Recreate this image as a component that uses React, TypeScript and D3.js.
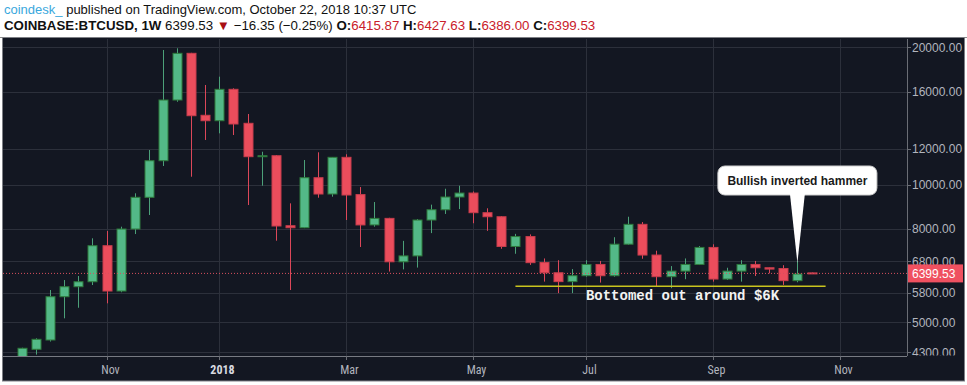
import React from 'react';
import * as d3 from 'd3';

// weekly BTCUSD candles (Coinbase)
const weeks = [
  '2017-09-25', '2017-10-02', '2017-10-09', '2017-10-16', '2017-10-23', '2017-10-30',
  '2017-11-06', '2017-11-13', '2017-11-20', '2017-11-27', '2017-12-04', '2017-12-11',
  '2017-12-18', '2017-12-25', '2018-01-01', '2018-01-08', '2018-01-15', '2018-01-22',
  '2018-01-29', '2018-02-05', '2018-02-12', '2018-02-19', '2018-02-26', '2018-03-05',
  '2018-03-12', '2018-03-19', '2018-03-26', '2018-04-02', '2018-04-09', '2018-04-16',
  '2018-04-23', '2018-04-30', '2018-05-07', '2018-05-14', '2018-05-21', '2018-05-28',
  '2018-06-04', '2018-06-11', '2018-06-18', '2018-06-25', '2018-07-02', '2018-07-09',
  '2018-07-16', '2018-07-23', '2018-07-30', '2018-08-06', '2018-08-13', '2018-08-20',
  '2018-08-27', '2018-09-03', '2018-09-10', '2018-09-17', '2018-09-24', '2018-10-01',
  '2018-10-08', '2018-10-15', '2018-10-22',
];
const opens = [
  3700, 4366, 4575, 5690, 5984, 6136, 7358, 5856, 8004, 9391, 11292, 15334,
  19403, 14198, 13814, 16184, 13636, 11524, 11580, 8138, 8056, 10366, 9548, 11488,
  9520, 8170, 8445, 6785, 6990, 8375, 8820, 9405, 9595, 8690, 8515, 7330,
  7705, 6760, 6420, 6140, 6325, 6695, 6325, 7415, 8195, 7020, 6295, 6475,
  6695, 7295, 6220, 6475, 6695, 6585, 6560, 6170, 6415.87,
];
const highs = [
  4400, 4614, 5886, 6189, 6316, 7638, 7924, 8098, 9582, 11919, 19730, 19900,
  19450, 16540, 17246, 16266, 14290, 11816, 11620, 9110, 11334, 11782, 11500, 11664,
  9890, 9170, 8470, 7540, 8415, 9050, 9805, 9955, 9670, 8885, 8540, 7810,
  7790, 6900, 6840, 6540, 6840, 6815, 7680, 8515, 8290, 7175, 6640, 6900,
  7345, 7410, 6585, 6840, 6815, 6590, 6670, 6815, 6427.63,
];
const lows = [
  3650, 4250, 4540, 5103, 5382, 6035, 5504, 5820, 7804, 8589, 10996, 15200,
  10417, 12536, 12964, 12854, 9032, 9956, 7546, 5886, 8040, 9372, 9420, 8376,
  7310, 8100, 6460, 6530, 6590, 7840, 8635, 8850, 8240, 7930, 7245, 7065,
  6680, 6140, 5795, 5795, 6295, 6110, 6295, 7395, 6890, 5990, 5940, 6215,
  6675, 6140, 6190, 6140, 6315, 6400, 6040, 6120, 6386.0,
];
const closes = [
  4388, 4591, 5690, 5984, 6136, 7358, 5856, 8004, 9391, 11292, 15334, 19403,
  14168, 13814, 16184, 13588, 11524, 11580, 8126, 8056, 10366, 9548, 11488, 9500,
  8170, 8445, 6785, 6990, 8375, 8820, 9405, 9595, 8690, 8515, 7330, 7705,
  6755, 6420, 6140, 6325, 6695, 6325, 7415, 8195, 7020, 6295, 6475, 6695,
  7295, 6220, 6475, 6695, 6585, 6540, 6170, 6380, 6399.53,
];

const priceTicks = [20000, 16000, 12000, 10000, 8000, 6800, 5800, 5000, 4300];
const monthTickDates = ['2017-11-06', '2018-01-01', '2018-03-05', '2018-05-07', '2018-07-02', '2018-09-03', '2018-11-05'];
const monthTickLabels = ['Nov', '2018', 'Mar', 'May', 'Jul', 'Sep', 'Nov'];
const lastPrice = 6399.53;

// annotations
const supportPrice = 6000;
const supportFrom = '2018-05-28';
const supportTo = '2018-10-29';
const supportLabel = 'Bottomed out around $6K';
const hammerWeek = '2018-10-15';
const hammerTipPrice = 6744;
const hammerLabel = 'Bullish inverted hammer';

const W = 967;
const H = 385;
const plotL = 3, plotR = 907, plotT = 39, plotB = 356;

const UP = '#53b987', UP_BORDER = '#2e7a3c', UP_WICK = '#4ca079';
const DOWN = '#eb4d5c', DOWN_BORDER = '#c73d4c', DOWN_WICK = '#dc4759';
const GRID = '#2c303b';
const AXIS_TEXT = '#b2b5be';
const HDR_RED = '#c9202a';

export default function App() {
  const x = d3.scaleUtc()
    .domain([new Date(weeks[0]), new Date(weeks[weeks.length - 1])])
    .range([22, 811.5]);
  const y = d3.scaleLog().domain([4300, 20000]).range([352.3, 47.3]);

  const candles = weeks.map((w, i) => ({
    date: new Date(w), o: opens[i], h: highs[i], l: lows[i], c: closes[i],
  }));

  const bodyW = 9;
  const yLast = y(lastPrice);
  const hx = x(new Date(hammerWeek));
  const calloutW = 159, calloutH = 29, calloutTop = 166;
  const sx1 = x(new Date(supportFrom)), sx2 = x(new Date(supportTo));

  return (
    <svg width={W} height={H} style={{ position: 'absolute', left: 0, top: 0, background: '#fff' }}
      fontFamily="'Liberation Sans', Arial, sans-serif">
      <defs>
        <clipPath id="plot-clip">
          <rect x={plotL} y={plotT} width={plotR - plotL} height={plotB - plotT} />
        </clipPath>
        <clipPath id="yaxis-clip">
          <rect x={plotR} y={plotT} width={W - plotR - 2} height={plotB - plotT - 0.5} />
        </clipPath>
      </defs>

      {/* header */}
      <text x={4} y={14} fontSize={13} fill="#111">
        <tspan fill="#3aa8dd">coindesk_</tspan>
        <tspan> published on TradingView.com, October 22, 2018 10:37 UTC</tspan>
      </text>
      <text x={4} y={30} fontSize={13.3} fill="#111">
        <tspan fontWeight="bold">COINBASE:BTCUSD, 1W</tspan>
        <tspan>  6399.53 </tspan>
        <tspan fill="#a80f14">▼</tspan>
        <tspan> −16.35 (−0.25%) </tspan>
        <tspan fontWeight="bold">O:</tspan><tspan fill={HDR_RED}>6415.87</tspan>
        <tspan fontWeight="bold"> H:</tspan><tspan fill={HDR_RED}>6427.63</tspan>
        <tspan fontWeight="bold"> L:</tspan><tspan fill={HDR_RED}>6386.00</tspan>
        <tspan fontWeight="bold"> C:</tspan><tspan fill={HDR_RED}>6399.53</tspan>
      </text>

      {/* chart frame */}
      <line x1={0} x2={W} y1={37.5} y2={37.5} stroke="#8a8a8a" />
      <rect x={2.5} y={37.5} width={962} height={343.5} fill="#131722" stroke="#7d7f85" />

      {/* grid */}
      {priceTicks.map(p => (
        <line key={'hg' + p} x1={plotL} x2={plotR} y1={Math.round(y(p)) + 0.5} y2={Math.round(y(p)) + 0.5}
          stroke={GRID} />
      ))}
      {monthTickDates.map(d => {
        const xx = Math.round(x(new Date(d))) + 0.5;
        return <line key={'vg' + d} x1={xx} x2={xx} y1={plotT} y2={plotB} stroke={GRID} />;
      })}

      {/* candles */}
      <g clipPath="url(#plot-clip)">
        {candles.map((d, i) => {
          const up = d.c >= d.o;
          const cx = Math.round(x(d.date)) + 0.5;
          const top = y(Math.max(d.o, d.c));
          const bot = y(Math.min(d.o, d.c));
          const bh = Math.max(1, bot - top);
          return (
            <g key={i}>
              <line x1={cx} x2={cx} y1={y(d.h)} y2={y(d.l)} stroke={up ? UP_WICK : DOWN_WICK} />
              <rect x={cx - bodyW / 2} y={top} width={bodyW} height={bh}
                fill={up ? UP : DOWN} stroke={up ? UP_BORDER : DOWN_BORDER} strokeWidth={1} />
            </g>
          );
        })}

        {/* last price line */}
        <line x1={plotL} x2={plotR} y1={yLast} y2={yLast} stroke="#d8505e" strokeDasharray="1,2" />
      </g>

      {/* support annotation */}
      <line x1={sx1} x2={sx2} y1={y(supportPrice)} y2={y(supportPrice)} stroke="#c9c41e" strokeWidth={1.5} />
      <text x={(sx1 + sx2) / 2 + 12} y={y(supportPrice) + 13.5}
        textAnchor="middle" fontFamily="'Liberation Mono', 'DejaVu Sans Mono', monospace"
        fontWeight="bold" fontSize={14} fill="#f2f2f2">{supportLabel}</text>

      {/* callout */}
      <g>
        <rect x={hx - calloutW / 2} y={calloutTop} width={calloutW} height={calloutH} rx={7}
          fill="#fff" stroke="#d0d0d0" />
        <path
          d={`M${hx - 7.5},${calloutTop + calloutH - 1.5} L${hx},${y(hammerTipPrice)} L${hx + 7.5},${calloutTop + calloutH - 1.5} Z`}
          fill="#fff" />
        <text x={hx} y={calloutTop + 19} textAnchor="middle" fontWeight="bold" fontSize={12} fill="#1a1a1a">
          {hammerLabel}
        </text>
      </g>

      {/* plot borders */}
      <line x1={plotR + 0.5} x2={plotR + 0.5} y1={plotT} y2={plotB} stroke="#6a6d75" />
      <line x1={plotL} x2={plotR} y1={plotB + 0.5} y2={plotB + 0.5} stroke="#777a82" />

      {/* price axis */}
      <g clipPath="url(#yaxis-clip)">
        {priceTicks.map(p => (
          <g key={'yt' + p}>
            <line x1={plotR} x2={plotR + 4} y1={Math.round(y(p)) + 0.5} y2={Math.round(y(p)) + 0.5} stroke="#6a6d75" />
            <text x={912} y={y(p)} dy="0.35em" fontSize={12} fill={AXIS_TEXT}>{d3.format('.2f')(p)}</text>
          </g>
        ))}
        <rect x={plotR + 1} y={yLast - 9} width={55} height={18} fill="#ef5160" />
        <text x={912} y={yLast} dy="0.35em" fontSize={12} fill="#fff">{d3.format('.2f')(lastPrice)}</text>
      </g>

      {/* time axis */}
      {monthTickDates.map((d, i) => {
        const xx = Math.round(x(new Date(d))) + 0.5;
        const isYear = monthTickLabels[i] === '2018';
        return (
          <g key={'xt' + d}>
            <line x1={xx} x2={xx} y1={plotB} y2={plotB + 4} stroke="#6a6d75" />
            <text x={xx + 3} y={374} textAnchor="middle" fontSize={12}
              fontFamily="'Liberation Sans Narrow', 'Roboto Condensed', 'Liberation Sans', sans-serif"
              fontWeight={isYear ? 'bold' : 'normal'} fill={isYear ? '#d8dae0' : AXIS_TEXT}>
              {monthTickLabels[i]}
            </text>
          </g>
        );
      })}
    </svg>
  );
}
